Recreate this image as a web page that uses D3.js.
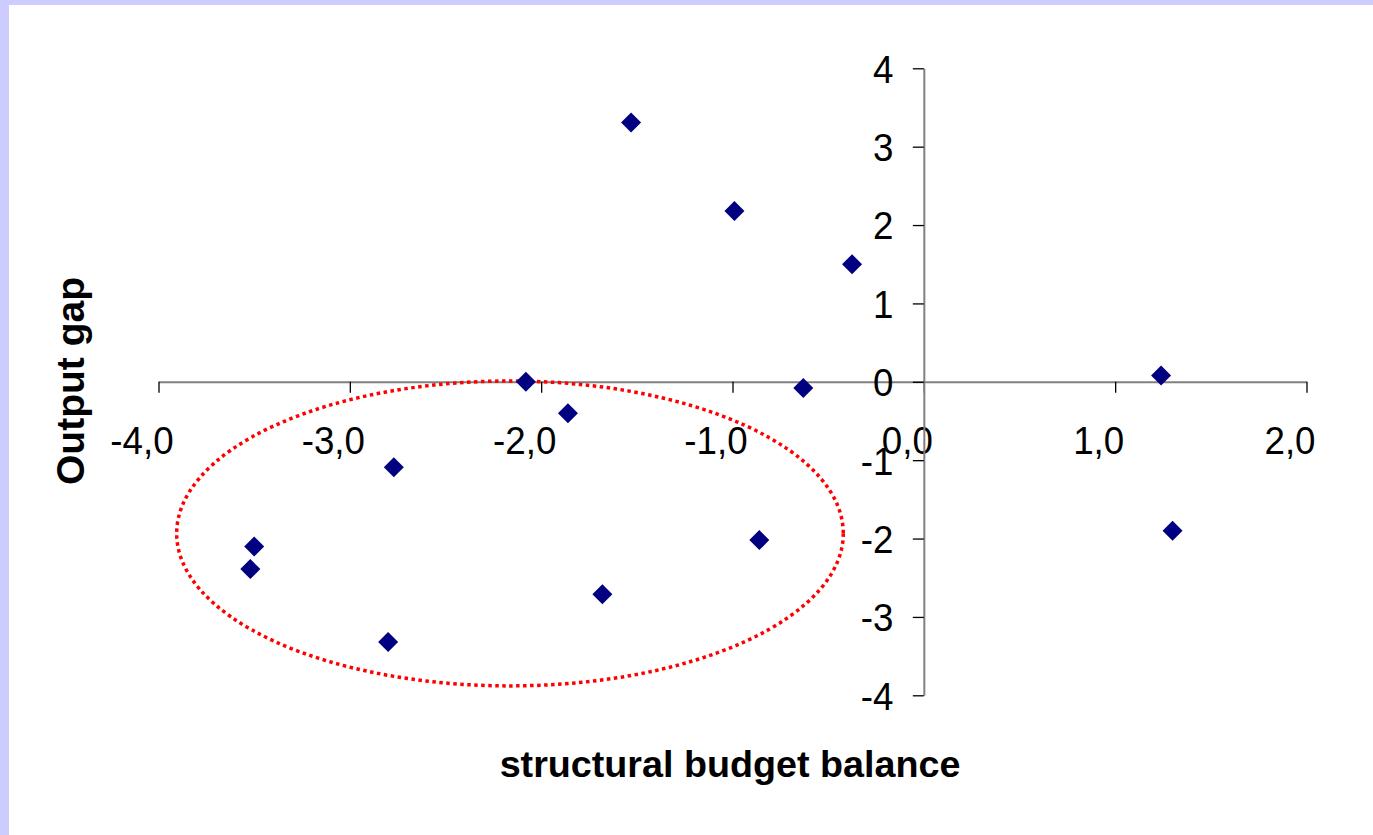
<!DOCTYPE html>
<html>
<head>
<meta charset="utf-8">
<script src="https://cdn.jsdelivr.net/npm/d3@7"></script>
<style>
  html, body { margin: 0; padding: 0; background: #ccccff; }
  svg { display: block; }
  text { font-family: "Liberation Sans", Arial, sans-serif; fill: #000; }
</style>
</head>
<body>
<svg id="chart" width="1373" height="835"></svg>
<script>
// Structural budget balance (x) vs output gap (y), one point per country
const budgetBalance = [-1.53, -0.99, -0.375, -2.08, -1.86, -0.63, 1.24, 1.30, -2.77, -3.50, -3.52, -2.80, -1.68, -0.86];
const outputGap     = [ 3.31,  2.18,  1.50,   0.00, -0.40, -0.08, 0.08, -1.90, -1.09, -2.10, -2.39, -3.32, -2.71, -2.02];

const xTicks = [-4, -3, -2, -1, 0, 1, 2];
const yTicks = [-4, -3, -2, -1, 0, 1, 2, 3, 4];

// Highlight ellipse around the deficit / negative-gap group (data units)
const ellipseCenter = [-2.163, -1.935];
const ellipseRadii  = [1.742, 1.945];

const svg = d3.select("#chart");

// white chart area inside the lavender frame
svg.append("rect")
  .attr("x", 9).attr("y", 5)
  .attr("width", 1373 - 9).attr("height", 835 - 5)
  .attr("fill", "#ffffff");

const x = d3.scaleLinear().domain([-4, 2]).range([158.5, 1306.5]);
const y = d3.scaleLinear().domain([-4, 4]).range([695.3, 68.3]);

// tick labels are slightly condensed
const squeeze = 0.93;

// X axis crossing at y = 0
const xAxis = svg.append("g")
  .attr("transform", `translate(0,${y(0)})`)
  .call(d3.axisBottom(x)
    .tickValues(xTicks)
    .tickSize(11)
    .tickSizeOuter(0)
    .tickFormat(d => d.toFixed(1).replace(".", ",")));

// Y axis crossing at x = 0
const yAxis = svg.append("g")
  .attr("transform", `translate(${x(0)},0)`)
  .call(d3.axisLeft(y)
    .tickValues(yTicks)
    .tickSize(11)
    .tickSizeOuter(0)
    .tickFormat(d => String(d)));

[xAxis, yAxis].forEach(g => {
  g.select(".domain").attr("stroke", "#808080").attr("stroke-width", 2);
  g.selectAll(".tick line").attr("stroke", "#000").attr("stroke-width", 1.3);
  g.selectAll(".tick text")
    .attr("fill", "#000")
    .attr("transform", `scale(${squeeze},1)`)
    .style("font-family", "'Liberation Sans', Arial, sans-serif")
    .style("font-size", "39.5px");
});

xAxis.selectAll(".tick text")
  .attr("x", -17 / squeeze)
  .attr("y", 72.5)
  .attr("dy", 0);

yAxis.selectAll(".tick text")
  .attr("x", -30.5 / squeeze)
  .attr("dy", "0.35em");

// dotted highlight ellipse
svg.append("ellipse")
  .attr("cx", x(ellipseCenter[0]))
  .attr("cy", y(ellipseCenter[1]))
  .attr("rx", x(ellipseCenter[0] + ellipseRadii[0]) - x(ellipseCenter[0]))
  .attr("ry", y(ellipseCenter[1]) - y(ellipseCenter[1] + ellipseRadii[1]))
  .attr("fill", "none")
  .attr("stroke", "#ff0000")
  .attr("stroke-width", 3.5)
  .attr("stroke-dasharray", "3.5,3.5");

// diamond markers
const points = budgetBalance.map((b, i) => ({ b, g: outputGap[i] }));
const diamond = d3.symbol().type(d3.symbolSquare).size(200);
svg.append("g").selectAll("path")
  .data(points)
  .join("path")
  .attr("d", diamond)
  .attr("transform", d => `translate(${x(d.b)},${y(d.g)}) rotate(45)`)
  .attr("fill", "#000080");

// axis titles
svg.append("text")
  .attr("x", 730).attr("y", 777)
  .attr("text-anchor", "middle")
  .style("font-size", "37.7px")
  .style("font-weight", "bold")
  .text("structural budget balance");

svg.append("text")
  .attr("transform", "translate(84,381) rotate(-90)")
  .attr("text-anchor", "middle")
  .style("font-size", "39px")
  .style("font-weight", "bold")
  .text("Output gap");
</script>
</body>
</html>
